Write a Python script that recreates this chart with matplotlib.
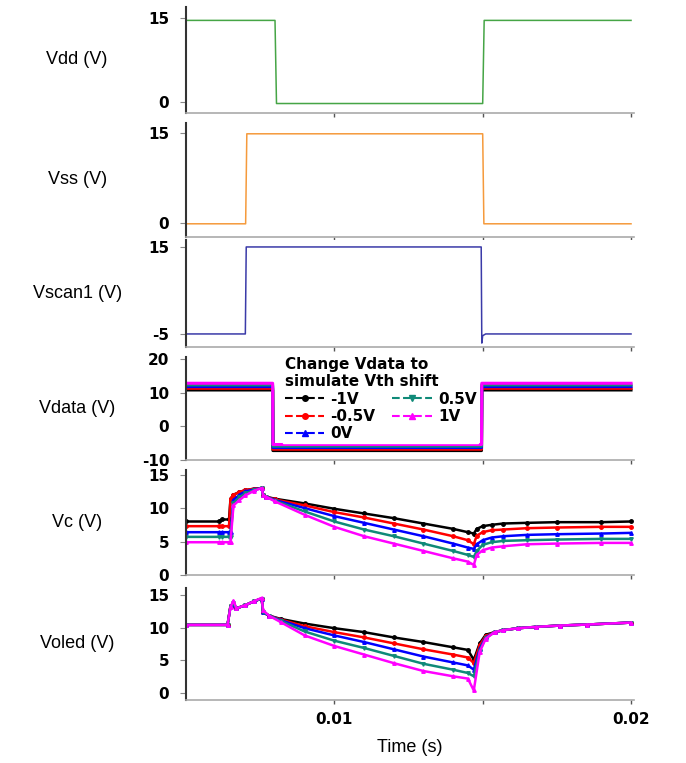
import matplotlib
matplotlib.use("Agg")
import matplotlib.pyplot as plt
from matplotlib.lines import Line2D

# ---- data ----
# square waves: breakpoints in time (s) and level (V)
vdd_t = [0.005, 0.00800, 0.00805, 0.01500, 0.01505, 0.020]
vdd_v = [14.6, 14.6, -0.3, -0.3, 14.6, 14.6]

vss_t = [0.005, 0.00701, 0.00705, 0.01500, 0.01504, 0.020]
vss_v = [-0.1, -0.1, 14.9, 14.9, -0.1, -0.1]

vscan_t = [0.005, 0.00700, 0.00703, 0.01495, 0.01497, 0.01500, 0.01510, 0.020]
vscan_v = [-5.0, -5.0, 15.0, 15.0, -7.1, -5.4, -5.0, -5.0]

shift_labels = ['-1V', '-0.5V', '0V', '0.5V', '1V']
shift_colors = ['black', 'red', 'blue', '#0f8a78', 'magenta']
shift_markers = ['o', 'o', '^', 'v', '^']

vdata_t = [0.005, 0.00792, 0.00793, 0.01496, 0.01497, 0.020]
vdata_high = [10.8, 11.3, 11.8, 12.3, 12.8]
vdata_low = [-7.2, -6.8, -6.3, -5.9, -5.4]

vc_t = [0.0050, 0.0061, 0.0062, 0.00645, 0.0065, 0.0066, 0.0068, 0.0070, 0.0073,
        0.00755, 0.0076, 0.0077, 0.0080, 0.0090, 0.0100, 0.0110, 0.0120, 0.0130,
        0.0140, 0.0145, 0.0147, 0.0148, 0.0150, 0.0153, 0.0157, 0.0165, 0.0175,
        0.0190, 0.0200]
vc_m1 = [8.0, 8.0, 8.3, 8.3, 11.4, 12.0, 12.4, 12.7, 12.9, 13.0, 11.9, 11.7, 11.4,
         10.7, 9.9, 9.2, 8.5, 7.7, 6.9, 6.4, 6.2, 6.9, 7.3, 7.5, 7.7, 7.8, 7.9, 7.9, 8.0]
vc_m05 = [7.3, 7.3, 7.3, 7.3, 11.4, 12.0, 12.4, 12.7, 12.9, 13.0, 11.9, 11.7, 11.3,
          10.4, 9.4, 8.6, 7.7, 6.8, 5.8, 5.2, 4.6, 5.9, 6.4, 6.7, 6.8, 7.0, 7.1, 7.2, 7.2]
vc_0 = [6.4, 6.4, 6.4, 6.4, 6.4, 11.2, 12.0, 12.5, 12.8, 13.0, 11.9, 11.7, 11.2,
        10.0, 8.8, 7.8, 6.8, 5.8, 4.7, 4.1, 3.9, 4.6, 5.2, 5.6, 5.8, 6.0, 6.1, 6.2, 6.3]
vc_p05 = [5.7, 5.7, 5.7, 5.7, 5.7, 10.8, 11.6, 12.2, 12.7, 13.0, 11.9, 11.7, 11.1,
          9.5, 8.0, 6.8, 5.8, 4.7, 3.6, 3.0, 2.7, 3.6, 4.5, 4.9, 5.1, 5.2, 5.3, 5.4, 5.4]
vc_p1 = [4.9, 4.9, 4.9, 4.9, 4.9, 10.4, 11.2, 11.9, 12.6, 13.0, 11.9, 11.7, 11.0,
         9.0, 7.2, 5.8, 4.7, 3.6, 2.5, 2.0, 1.5, 3.0, 3.7, 4.1, 4.3, 4.6, 4.7, 4.8, 4.8]

vo_t = [0.0050, 0.0064, 0.0065, 0.0066, 0.0067, 0.0070, 0.0073, 0.00755, 0.0076,
        0.0078, 0.0082, 0.0090, 0.0100, 0.0110, 0.0120, 0.0130, 0.0140, 0.0145,
        0.0147, 0.0149, 0.0151, 0.0154, 0.0157, 0.0162, 0.0168, 0.0176, 0.0185, 0.0200]
vo_m1 = [10.4, 10.4, 13.3, 13.6, 12.9, 13.4, 14.0, 14.4, 12.3, 11.8, 11.3, 10.6,
         9.9, 9.3, 8.5, 7.8, 7.0, 6.6, 5.1, 7.6, 8.9, 9.3, 9.6, 9.9, 10.1, 10.3, 10.45, 10.75]
vo_m05 = [10.4, 10.4, 13.3, 13.6, 12.9, 13.4, 14.0, 14.4, 12.3, 11.8, 11.2, 10.2,
          9.3, 8.5, 7.6, 6.7, 5.9, 5.45, 4.6, 7.3, 8.7, 9.3, 9.6, 9.9, 10.1, 10.3, 10.45, 10.75]
vo_0 = [10.4, 10.4, 13.2, 13.6, 12.9, 13.4, 14.0, 14.4, 12.3, 11.8, 11.1, 9.9,
        8.8, 7.8, 6.7, 5.6, 4.7, 4.25, 3.6, 6.8, 8.5, 9.3, 9.6, 9.9, 10.1, 10.3, 10.45, 10.75]
vo_p05 = [10.4, 10.4, 13.2, 13.7, 12.9, 13.4, 14.0, 14.4, 12.4, 11.8, 11.0, 9.4,
          8.0, 6.9, 5.7, 4.5, 3.6, 3.1, 2.6, 6.5, 8.4, 9.3, 9.6, 9.9, 10.1, 10.3, 10.45, 10.75]
vo_p1 = [10.4, 10.4, 13.1, 14.1, 12.9, 13.4, 14.0, 14.5, 12.6, 11.8, 10.8, 8.8,
         7.2, 5.9, 4.6, 3.4, 2.6, 2.25, 0.45, 6.3, 8.3, 9.3, 9.6, 9.9, 10.1, 10.3, 10.45, 10.75]

vc_series = [vc_m1, vc_m05, vc_0, vc_p05, vc_p1]
vo_series = [vo_m1, vo_m05, vo_0, vo_p05, vo_p1]

# ---- layout ----
W, H = 686, 763
fig = plt.figure(figsize=(W / 100, H / 100), dpi=100)
left, right = 186, 634
panels = [(7, 113), (123, 237), (240, 347), (357, 460), (470, 575), (588, 700)]
ylabels = ['Vdd (V)', 'Vss (V)', 'Vscan1 (V)', 'Vdata (V)', 'Vc (V)', 'Voled (V)']
ylims = [(-2, 17), (-2.3, 16.7), (-8, 16.6), (-10, 20.6), (0, 15.7), (-1, 16)]
yticks = [[0, 15], [0, 15], [-5, 15], [-10, 0, 10, 20], [0, 5, 10, 15], [0, 5, 10, 15]]

tick_font = {'family': 'DejaVu Sans', 'weight': 'bold', 'size': 11}
axes = []
for (top, bot), lab, yl, yt in zip(panels, ylabels, ylims, yticks):
    ax = fig.add_axes([left / W, 1 - bot / H, (right - left) / W, (bot - top) / H])
    ax.set_xlim(0.005, 0.0201)
    ax.set_ylim(*yl)
    ax.set_yticks(yt)
    ax.set_yticklabels([str(v) for v in yt], fontdict=tick_font)
    ax.set_xticks([0.01, 0.015, 0.02])
    ax.set_xticklabels([])
    for s in ('top', 'right'):
        ax.spines[s].set_visible(False)
    ax.spines['left'].set_color('#333333')
    ax.spines['left'].set_linewidth(1.5)
    ax.spines['bottom'].set_color('#aaaaaa')
    ax.spines['bottom'].set_linewidth(1.2)
    ax.tick_params(axis='y', length=4, width=0.8, color='#888888', pad=8)
    ax.tick_params(axis='x', length=3, width=1, color='#555555')
    ax.text(-0.243, 0.5, lab, transform=ax.transAxes, ha='center', va='center',
            family='Liberation Sans', fontsize=13)
    axes.append(ax)

axes[0].plot(vdd_t, vdd_v, color='#46a546', lw=1.1)
axes[1].plot(vss_t, vss_v, color='#f59a3c', lw=1.1)
axes[2].plot(vscan_t, vscan_v, color='#3a3aa8', lw=1.1)

for hi, lo, c in zip(vdata_high, vdata_low, shift_colors):
    axes[3].plot(vdata_t, [hi, hi, lo, lo, hi, hi], color=c, lw=2.2)

for ys, c, m in zip(vc_series, shift_colors, shift_markers):
    axes[4].plot(vc_t, ys, color=c, lw=1.8, marker=m, ms=2.5)
for ys, c, m in zip(vo_series, shift_colors, shift_markers):
    axes[5].plot(vo_t, ys, color=c, lw=1.8, marker=m, ms=2.5)

handles = [Line2D([], [], color=c, ls='--', lw=1.5, marker=m, ms=4)
           for c, m in zip(shift_colors, shift_markers)]
leg = axes[3].legend(handles, shift_labels, ncol=2, loc='upper left',
                     bbox_to_anchor=(0.2, 1.09), title='Change Vdata to\nsimulate Vth shift',
                     prop={'weight': 'bold', 'size': 11},
                     title_fontproperties={'weight': 'bold', 'size': 11},
                     alignment='left', frameon=True, facecolor='white', edgecolor='white',
                     framealpha=1, handlelength=2.6, labelspacing=0.15, columnspacing=1.1,
                     borderpad=0.1, handletextpad=0.4, fancybox=False)
leg.set_zorder(5)

axes[5].set_xticklabels(['0.01', '', '0.02'], fontdict=tick_font)
axes[5].tick_params(axis='x', pad=6)
fig.text(410 / W, 1 - 748 / H, 'Time (s)', ha='center', va='center',
         family='Liberation Sans', fontsize=13)

fig.savefig('out.png', dpi=100)
